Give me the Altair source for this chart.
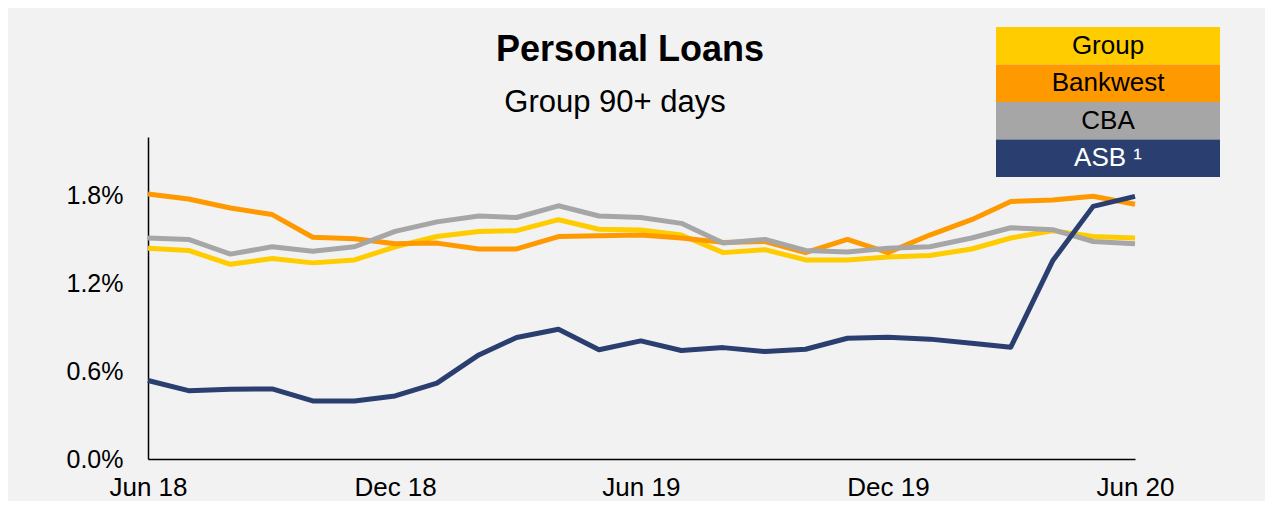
import altair as alt
import pandas as pd

dates = pd.date_range("2018-06-01", "2020-06-01", freq="MS").strftime("%Y-%m-%d").tolist()

group = [1.44, 1.425, 1.33, 1.37, 1.34, 1.36, 1.45, 1.52, 1.555, 1.56, 1.635, 1.57, 1.565,
         1.53, 1.41, 1.43, 1.36, 1.36, 1.38, 1.39, 1.435, 1.51, 1.56, 1.52, 1.51]
bankwest = [1.81, 1.776, 1.715, 1.67, 1.515, 1.505, 1.47, 1.475, 1.435, 1.435, 1.52, 1.525, 1.53,
            1.51, 1.48, 1.486, 1.41, 1.50, 1.41, 1.53, 1.635, 1.76, 1.77, 1.795, 1.74]
cba = [1.51, 1.50, 1.40, 1.45, 1.42, 1.45, 1.555, 1.62, 1.66, 1.65, 1.73, 1.66, 1.65,
       1.61, 1.475, 1.50, 1.425, 1.415, 1.44, 1.45, 1.51, 1.58, 1.567, 1.486, 1.47]
asb = [0.536, 0.467, 0.476, 0.479, 0.397, 0.397, 0.431, 0.518, 0.711, 0.83, 0.887, 0.746, 0.807,
       0.741, 0.761, 0.734, 0.750, 0.825, 0.832, 0.819, 0.791, 0.764, 1.354, 1.726, 1.794]

series_names = ["Group", "Bankwest", "CBA", "ASB"]
legend_labels = ["Group", "Bankwest", "CBA", "ASB \u00b9"]
series_colors = ["#FFCC00", "#FF9900", "#A6A6A6", "#2A3F6F"]
draw_order = {"CBA": 0, "Bankwest": 1, "Group": 2, "ASB": 3}
y_ticks = [0.0, 0.6, 1.2, 1.8]
x_ticks = ["2018-06-01", "2018-12-01", "2019-06-01", "2019-12-01", "2020-06-01"]
title_text = ["Personal Loans"]
subtitle_text = ["Group 90+ days"]

rows = []
for name, vals in zip(series_names, [group, bankwest, cba, asb]):
    for d, v in zip(dates, vals):
        rows.append({"date": d, "value": v, "series": name, "order": draw_order[name]})
df = pd.DataFrame(rows)

legend_df = pd.DataFrame({"series": series_names, "label": legend_labels})

FONT = "Liberation Sans"

color_scale = alt.Scale(domain=series_names, range=series_colors)

lines = alt.Chart(df).mark_line(strokeWidth=5, strokeJoin="round").encode(
    x=alt.X("date:T",
            scale=alt.Scale(type="utc", domain=[dates[0], dates[-1]], nice=False),
            axis=alt.Axis(values=[alt.DateTime(year=int(t[:4]), month=int(t[5:7]), date=1, utc=True) for t in x_ticks],
                          labelExpr="utcFormat(datum.value, '%b %y')",
                          ticks=False, grid=False, labelPadding=15, title=None,
                          labelFontSize=26, labelFont=FONT, labelColor="#000",
                          domainColor="#000", domainWidth=1.5, labelFlush=False)),
    y=alt.Y("value:Q",
            scale=alt.Scale(domain=[0, 2.2], nice=False),
            axis=alt.Axis(values=y_ticks, labelExpr="format(datum.value, '.1f') + '%'",
                          ticks=False, grid=False, labelPadding=25, title=None,
                          labelFontSize=25, labelFont=FONT, labelColor="#000",
                          domainColor="#000", domainWidth=1.5)),
    color=alt.Color("series:N", scale=color_scale, legend=None),
    order=alt.Order("order:Q"),
    detail="series:N",
)

legend_y = alt.Y("series:N", sort=series_names,
                 scale=alt.Scale(domain=series_names, range=[-110, 40], paddingInner=0, paddingOuter=0),
                 axis=None)

legend_rect = alt.Chart(legend_df).mark_rect().encode(
    x=alt.value(848), x2=alt.value(1072),
    y=legend_y,
    color=alt.Color("series:N", scale=color_scale, legend=None),
)

legend_text = alt.Chart(legend_df).mark_text(fontSize=26, font=FONT, align="center", baseline="middle").encode(
    x=alt.value(960),
    y=legend_y,
    text="label:N",
    color=alt.condition(alt.datum.series == "ASB", alt.value("#FFFFFF"), alt.value("#000000")),
)

legend = alt.layer(legend_rect, legend_text)

title_mark = alt.Chart(pd.DataFrame({"t": title_text})).mark_text(
    fontSize=36, fontWeight="bold", font=FONT, color="#000", align="center", baseline="alphabetic"
).encode(x=alt.value(482), y=alt.value(-76), text="t:N")

subtitle_mark = alt.Chart(pd.DataFrame({"t": subtitle_text})).mark_text(
    fontSize=31, font=FONT, color="#000", align="center", baseline="alphabetic"
).encode(x=alt.value(467), y=alt.value(-25), text="t:N")

chart = alt.layer(lines, legend, title_mark, subtitle_mark).resolve_scale(y="independent").properties(
    width=987,
    height=322,
    padding={"left": 140, "top": 129, "right": 130, "bottom": 42},
    autosize=alt.AutoSizeParams(type="none"),
    background="#F2F2F2",
).configure_view(stroke=None)

chart.save("out.html", embed_options={"renderer": "svg", "actions": False})
